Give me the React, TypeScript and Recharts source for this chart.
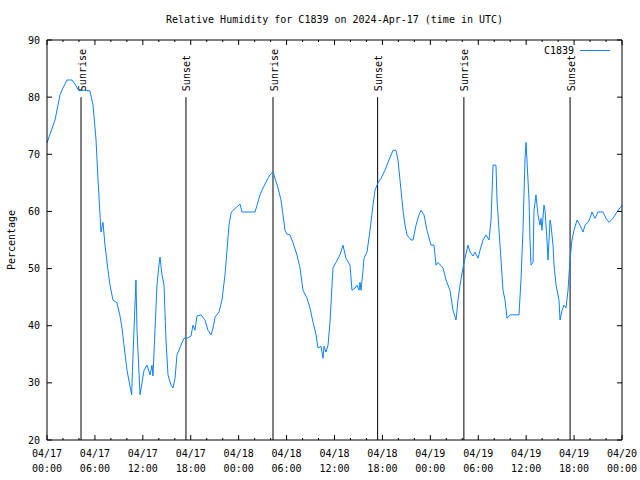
import React from 'react';
import { LineChart, Line, XAxis, YAxis, ReferenceLine, Legend } from 'recharts';

// hours since 2024-04-17 00:00 UTC
const hours = [
  0, 1.0, 1.63, 2.0, 2.5, 3.13, 3.63, 4.0, 4.5, 5.38, 5.76, 6.14, 6.39, 6.64, 6.76, 7.01,
  7.26, 7.64, 7.89, 8.26, 8.77, 9.14, 9.39, 9.64, 10.02, 10.6, 10.7, 10.89, 11.14, 11.27, 11.65,
  11.85, 12.15, 12.52, 12.9, 13.15, 13.27, 13.52, 13.77, 14.02, 14.15, 14.4, 14.65, 14.9, 15.15,
  15.53, 15.78, 16.03, 16.28, 16.78, 17.15, 17.53, 18.03, 18.28, 18.53, 18.78, 19.28, 19.78,
  20.16, 20.54, 20.79, 21.04, 21.54, 21.91, 22.29, 22.54, 22.79, 23.04, 23.29, 23.79, 24.17,
  24.42, 26.05, 26.3, 26.67, 27.05, 27.55, 27.92, 28.3, 28.55, 28.93, 29.3, 29.55, 29.8, 30.05,
  30.43, 30.8, 31.3, 31.68, 32.06, 32.56, 32.93, 33.31, 33.68, 33.93, 34.31, 34.56, 34.69, 34.94,
  35.19, 35.44, 35.81, 36.19, 36.69, 37.06, 37.44, 37.94, 38.19, 38.57, 38.82, 39.07, 39.19,
  39.32, 39.57, 39.69, 40.07, 40.45, 40.82, 41.07, 41.45, 41.82, 42.32, 42.82, 43.33, 43.7,
  43.95, 44.2, 44.58, 44.83, 45.08, 45.58, 45.83, 46.21, 46.58, 46.83, 47.21, 47.58, 48.08,
  48.46, 48.71, 48.96, 49.59, 49.96, 50.46, 50.84, 51.22, 51.47, 51.72, 52.09, 52.34, 52.72,
  52.97, 53.34, 53.59, 53.97, 54.22, 54.6, 54.97, 55.35, 55.6, 55.85, 56.22, 56.35, 56.6, 56.85,
  57.1, 57.35, 57.6, 57.98, 59.1, 59.35, 59.6, 59.85, 59.98, 60.1, 60.36, 60.48, 60.61, 60.86,
  60.98, 61.23, 61.48, 61.73, 61.86, 61.98, 62.23, 62.36, 62.61, 62.74, 62.99, 63.11, 63.36,
  63.49, 63.74, 64.11, 64.24, 64.49, 64.74, 64.99, 65.24, 65.49, 65.74, 65.99, 66.37, 66.74,
  67.12, 67.37, 67.74, 67.99, 68.24, 68.62, 68.99, 69.62, 69.99, 70.37, 70.87, 71.37, 71.75, 72.0,
];

const humidity = [
  72.0, 76.0, 80.4, 81.6, 83.0, 83.0, 82.0, 81.1, 81.2, 81.1, 78.6, 72.5, 65.5, 59.4, 56.4, 58.1,
  54.1, 49.7, 47.1, 44.5, 44.0, 41.7, 39.6, 36.6, 32.2, 27.9, 32.2, 39.2, 48.0, 39.2, 27.9,
  29.6, 32.2, 33.1, 31.4, 33.1, 31.2, 39.2, 47.1, 50.6, 52.0, 48.9, 47.1, 37.5, 31.4,
  29.6, 29.1, 30.8, 34.9, 36.6, 37.8, 37.8, 38.2, 40.1, 39.2, 41.7, 41.9, 41.0,
  39.2, 38.4, 39.6, 41.5, 42.4, 44.5, 48.9, 53.2, 57.6, 59.7, 60.2, 60.8, 61.3,
  59.9, 59.9, 61.1, 62.9, 64.1, 65.5, 66.4, 66.9, 65.8, 64.1, 62.0, 59.4, 56.7, 56.0,
  55.9, 54.5, 52.4, 50.1, 46.2, 44.8, 43.1, 40.6, 38.5, 36.1, 36.4, 34.3, 36.4, 35.4,
  36.6, 40.6, 50.1, 51.1, 52.4, 54.1, 51.8, 50.6, 46.2, 46.6, 47.1, 46.2, 47.6,
  46.2, 49.7, 51.8, 52.9, 56.7, 61.1, 63.7, 65.0, 65.8, 67.2, 69.0, 70.7, 70.7,
  69.0, 65.5, 60.2, 57.6, 55.9, 55.0, 55.0, 57.6, 59.4, 60.2, 59.4, 56.7, 54.1,
  54.1, 50.6, 51.1, 50.1, 48.0, 46.2, 42.7, 41.0, 44.5, 47.1, 50.1, 51.8, 54.1,
  52.9, 52.2, 52.9, 51.8, 53.2, 55.0, 55.9, 55.0, 58.5, 68.1, 68.1, 62.0, 56.7, 51.5,
  46.2, 44.5, 41.3, 41.9, 41.9, 48.0, 56.7, 69.0, 72.1, 69.0, 62.0, 55.0, 50.6, 51.1,
  60.2, 62.9, 59.4, 57.6, 58.8, 56.7, 61.1, 60.2, 55.0, 51.5, 58.5, 57.6, 54.1,
  50.6, 47.1, 44.5, 41.0, 42.7, 43.6, 43.1, 46.2, 51.5, 55.0, 56.7, 58.5, 57.6,
  56.4, 57.6, 58.1, 58.8, 59.9, 58.8, 59.9, 59.9, 58.8, 58.1, 58.8, 59.9, 60.6, 61.1,
];

const xTicks = [0, 2, 4, 6, 8, 10, 12, 14, 16, 18, 20, 22, 24, 26, 28, 30, 32, 34, 36, 38, 40, 42, 44, 46, 48, 50, 52, 54, 56, 58, 60, 62, 64, 66, 68, 70, 72];
const dateLabels = ['04/17', '04/17', '04/17', '04/17', '04/18', '04/18', '04/18', '04/18', '04/19', '04/19', '04/19', '04/19', '04/20'];
const timeLabels = ['00:00', '06:00', '12:00', '18:00', '00:00', '06:00', '12:00', '18:00', '00:00', '06:00', '12:00', '18:00', '00:00'];
const yTicks = [20, 30, 40, 50, 60, 70, 80, 90];
const sunHours = [4.26, 17.4, 28.3, 41.4, 52.2, 65.5];
const sunLabels = ['Sunrise', 'Sunset', 'Sunrise', 'Sunset', 'Sunrise', 'Sunset'];
const seriesName = 'C1839';
const title = 'Relative Humidity for C1839 on 2024-Apr-17 (time in UTC)';
const yLabel = 'Percentage';

const data = hours.map((h, i) => ({ h, rh: humidity[i] }));

const FONT = '"DejaVu Sans Mono", "Liberation Mono", monospace';
const LINE_COLOR = '#0f80ff';

const BottomTick = (props: any) => {
  const { x, y, payload } = props;
  const v = payload.value;
  const major = v % 6 === 0;
  const idx = v / 6;
  return (
    <g>
      <line x1={x} x2={x} y1={y} y2={y - (major ? 5 : 2)} stroke="#000" strokeWidth={1} />
      {major && (
        <text x={x} y={y + 13} textAnchor="middle" dominantBaseline="central" fontFamily={FONT} fontSize={10} fill="#000">
          {dateLabels[idx]}
        </text>
      )}
      {major && (
        <text x={x} y={y + 28} textAnchor="middle" dominantBaseline="central" fontFamily={FONT} fontSize={10} fill="#000">
          {timeLabels[idx]}
        </text>
      )}
    </g>
  );
};

const TopTick = (props: any) => {
  const { x, y, payload } = props;
  const major = payload.value % 6 === 0;
  return <line x1={x} x2={x} y1={y} y2={y + (major ? 5 : 2)} stroke="#000" strokeWidth={1} />;
};

const LeftTick = (props: any) => {
  const { x, y, payload } = props;
  return (
    <g>
      <line x1={x} x2={x + 5} y1={y} y2={y} stroke="#000" strokeWidth={1} />
      <text x={x - 7} y={y} textAnchor="end" dominantBaseline="central" fontFamily={FONT} fontSize={10} fill="#000">
        {payload.value}
      </text>
    </g>
  );
};

const RightTick = (props: any) => {
  const { x, y } = props;
  return <line x1={x} x2={x - 5} y1={y} y2={y} stroke="#000" strokeWidth={1} />;
};

const TitleLabel = (props: any) => {
  const vb = props.viewBox || {};
  const cx = (vb.x ?? 47) + (vb.width ?? 575) / 2;
  const ty = (vb.y ?? 39) + (vb.height ?? 1) - 21;
  return (
    <text x={cx} y={ty} textAnchor="middle" dominantBaseline="central" fontFamily={FONT} fontSize={10} fill="#000">
      {title}
    </text>
  );
};

const YLabel = (props: any) => {
  const vb = props.viewBox || {};
  const lx = (vb.x ?? 0) + 11;
  const ly = (vb.y ?? 40) + (vb.height ?? 400) / 2;
  return (
    <text x={lx} y={ly} transform={`rotate(-90, ${lx}, ${ly})`} textAnchor="middle" dominantBaseline="central" fontFamily={FONT} fontSize={10} fill="#000">
      {yLabel}
    </text>
  );
};

const SunLabel = (props: any) => {
  const vb = props.viewBox || {};
  const lx = (vb.x ?? vb.x1 ?? 0) + 1;
  const ly = Math.min(vb.y ?? vb.y1 ?? 0, vb.y2 ?? Infinity) - 6;
  return (
    <text x={lx} y={ly} transform={`rotate(-90, ${lx}, ${ly})`} textAnchor="start" dominantBaseline="central" fontFamily={FONT} fontSize={10} fill="#000">
      {props.value}
    </text>
  );
};

const LegendContent = (props: any) => {
  const items = (props.payload || []).filter((it: any) => it.type !== 'none');
  return (
    <div style={{ fontFamily: FONT, fontSize: 10, color: '#000' }}>
      {items.map((it: any) => (
        <div key={it.value} style={{ display: 'flex', alignItems: 'center', height: 16 }}>
          <span style={{ width: 36, textAlign: 'right' }}>{it.value}</span>
          <span style={{ marginLeft: 6, width: 30, height: 0, borderTop: `1px solid ${it.color}` }} />
        </div>
      ))}
    </div>
  );
};

export default function App() {
  return (
    <div style={{ position: 'absolute', left: 0, top: 0, width: 640, height: 480, background: '#fff' }}>
      <LineChart width={640} height={480} data={data} margin={{ top: 39, right: 17, bottom: 0, left: 0 }}>
        <XAxis
          dataKey="h"
          type="number"
          domain={[0, 72]}
          ticks={xTicks}
          interval={0}
          height={40}
          tickSize={0}
          tickMargin={0}
          tickLine={false}
          axisLine={{ stroke: '#000', strokeWidth: 1 }}
          tick={BottomTick}
        />
        <XAxis
          xAxisId="top"
          orientation="top"
          dataKey="h"
          type="number"
          domain={[0, 72]}
          ticks={xTicks}
          interval={0}
          height={1}
          tickSize={0}
          tickMargin={0}
          tickLine={false}
          axisLine={{ stroke: '#000', strokeWidth: 1 }}
          tick={TopTick}
          label={{ content: TitleLabel }}
        />
        <YAxis
          type="number"
          domain={[20, 90]}
          ticks={yTicks}
          interval={0}
          width={47}
          tickSize={0}
          tickMargin={0}
          tickLine={false}
          axisLine={{ stroke: '#000', strokeWidth: 1 }}
          tick={LeftTick}
          label={{ content: YLabel }}
        />
        <YAxis
          yAxisId="right"
          orientation="right"
          type="number"
          domain={[20, 90]}
          ticks={yTicks}
          interval={0}
          width={1}
          tickSize={0}
          tickMargin={0}
          tickLine={false}
          axisLine={{ stroke: '#000', strokeWidth: 1 }}
          tick={RightTick}
        />
        {sunHours.map((h, i) => (
          <ReferenceLine
            key={i}
            segment={[{ x: h, y: 20 }, { x: h, y: 80 }]}
            stroke="#000"
            strokeWidth={1}
            label={{ content: SunLabel, value: sunLabels[i] }}
          />
        ))}
        <Line
          xAxisId="top"
          yAxisId="right"
          type="linear"
          dataKey="rh"
          stroke="none"
          strokeOpacity={0}
          dot={false}
          activeDot={false}
          legendType="none"
          isAnimationActive={false}
        />
        <Line
          type="linear"
          dataKey="rh"
          name={seriesName}
          stroke={LINE_COLOR}
          strokeWidth={1}
          dot={false}
          activeDot={false}
          isAnimationActive={false}
        />
        <Legend
          layout="vertical"
          align="center"
          verticalAlign="middle"
          wrapperStyle={{ top: 42, left: 538, width: 80 }}
          content={LegendContent}
        />
      </LineChart>
    </div>
  );
}
